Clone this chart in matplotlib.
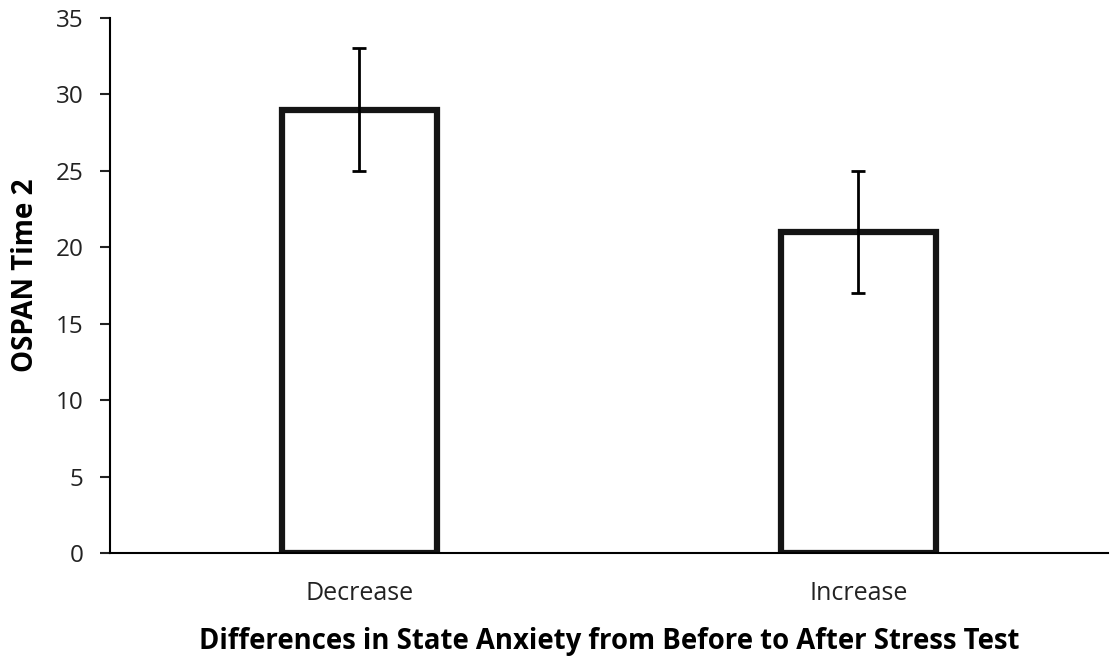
import matplotlib.pyplot as plt
import numpy as np

categories = ['Decrease', 'Increase']
means = [29, 21]
errors = [4, 4]

plt.rcParams['font.family'] = ['Open Sans', 'DejaVu Sans']

fig = plt.figure(figsize=(11.1, 6.57), dpi=100)
ax = fig.add_axes([0.099, 0.158, 0.899, 0.815])

x = np.arange(len(categories))
ax.bar(x, means, width=0.31, color='white', edgecolor='#141414', linewidth=4.5, zorder=2)
ax.errorbar(x, means, yerr=errors, fmt='none', ecolor='black', elinewidth=2,
            capsize=5, capthick=2, zorder=3)

ax.set_xlim(-0.5, 1.5)
ax.set_ylim(0, 35)
ax.set_yticks(np.arange(0, 36, 5))
ax.set_xticks(x)
ax.set_xticklabels(categories)

for s in ['top', 'right']:
    ax.spines[s].set_visible(False)
ax.spines['left'].set_linewidth(1.5)
ax.spines['bottom'].set_linewidth(1.5)

ax.tick_params(axis='y', direction='out', length=7, width=1.5, labelsize=17.5, colors='#222222', pad=12)
ax.tick_params(axis='x', length=0, labelsize=18, colors='#222222', pad=20)

ax.set_ylabel('OSPAN Time 2', fontsize=20, fontweight='bold', va='center')
ax.set_xlabel('Differences in State Anxiety from Before to After Stress Test',
              fontsize=19.8, fontweight='bold', va='center')
ax.yaxis.set_label_coords(-0.085, 0.519)
ax.xaxis.set_label_coords(0.5, -0.164)

plt.savefig('out.png', dpi=100)
